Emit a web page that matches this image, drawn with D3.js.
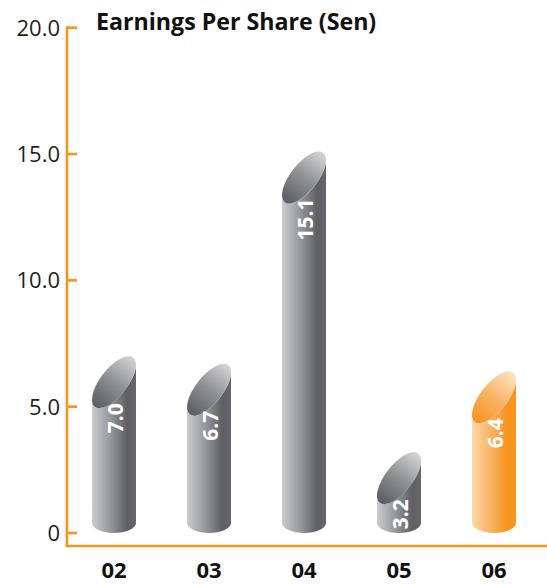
<!DOCTYPE html>
<html>
<head>
<meta charset="utf-8">
<script src="https://cdn.jsdelivr.net/npm/d3@7"></script>
<style>
  body { margin: 0; background: #fff; }
  svg { display: block; font-family: "Open Sans", sans-serif; }
</style>
</head>
<body>
<svg id="chart" width="547" height="584"></svg>
<script>
// chart data
var years = ["02", "03", "04", "05", "06"];
var eps = [7.0, 6.7, 15.1, 3.2, 6.4];
var yTicks = [0, 5, 10, 15, 20];
var title = "Earnings Per Share (Sen)";

var svg = d3.select("#chart");
var orange = "#f7931e";

var x = d3.scalePoint().domain(years).range([114, 494]);
var y = d3.scaleLinear().domain([0, 20]).range([533, 27.7]);

// cylinder geometry
var hx = 22;        // half width of the bar
var hy = 26;        // vertical half extent of the slanted top
var phi = -52 * Math.PI / 180;
var c2 = Math.cos(phi) * Math.cos(phi), s2 = Math.sin(phi) * Math.sin(phi);
var det = c2 * c2 - s2 * s2;
var rx = Math.sqrt((c2 * hx * hx - s2 * hy * hy) / det);
var ry = Math.sqrt((c2 * hy * hy - s2 * hx * hx) / det);
var tanOff = (rx * rx - ry * ry) * Math.sin(phi) * Math.cos(phi) / hx; // y offset of right tangent point
var rb = 10;        // bottom ellipse radius

// gradients
var defs = svg.append("defs");
function grad(id, stops) {
    var g = defs.append("linearGradient").attr("id", id)
        .attr("x1", 0).attr("y1", 0).attr("x2", 1).attr("y2", 0);
    stops.forEach(function (s) {
        g.append("stop").attr("offset", s[0]).attr("stop-color", s[1]);
    });
}
grad("bodyGrey", [[0, "#cbcbcd"], [0.45, "#929396"], [0.8, "#5e5f63"], [1, "#67686c"]]);
grad("topGrey", [[0, "#5b5c60"], [0.5, "#8f9093"], [1, "#d6d6d8"]]);
grad("bodyOrange", [[0, "#fdd8aa"], [0.45, "#f9b160"], [0.8, "#f7931e"], [1, "#f79622"]]);
grad("topOrange", [[0, "#f7931e"], [0.5, "#f9b365"], [1, "#fee5c6"]]);

// axes
svg.append("line")
    .attr("x1", 67).attr("x2", 67)
    .attr("y1", y(20) - 1.5).attr("y2", 546)
    .attr("stroke", orange).attr("stroke-width", 2.6);
svg.append("line")
    .attr("x1", 65.7).attr("x2", 547)
    .attr("y1", 546).attr("y2", 546)
    .attr("stroke", orange).attr("stroke-width", 2.6);

var tick = svg.selectAll(".ytick").data(yTicks).enter().append("g")
    .attr("class", "ytick")
    .attr("transform", function (d) { return "translate(0," + y(d) + ")"; });
tick.append("line")
    .attr("x1", 67).attr("x2", 77)
    .attr("stroke", orange).attr("stroke-width", 2.6);
tick.append("text")
    .attr("x", 60).attr("y", 0).attr("dy", "0.36em")
    .attr("text-anchor", "end")
    .attr("font-size", 22)
    .attr("fill", "#231f20")
    .text(function (d) { return d === 0 ? "0" : d3.format(".1f")(d); });

svg.append("text")
    .attr("x", 96).attr("y", 30)
    .attr("font-size", 23.2).attr("font-weight", "bold")
    .attr("fill", "#111")
    .text(title);

svg.selectAll(".xlab").data(years).enter().append("text")
    .attr("class", "xlab")
    .attr("x", function (d) { return x(d); })
    .attr("y", 578)
    .attr("text-anchor", "middle")
    .attr("font-size", 22).attr("font-weight", "bold")
    .attr("fill", "#111")
    .text(function (d) { return d; });

// bars
var bars = svg.selectAll(".bar").data(years).enter().append("g").attr("class", "bar");

bars.each(function (d, i) {
    var g = d3.select(this);
    var last = i === years.length - 1;
    var cx = x(d);
    var top = y(eps[i]);
    var cy = top + hy;
    var base = y(0) - rb;
    var deg = phi * 180 / Math.PI;
    var p = "M" + (cx - hx) + "," + (cy - tanOff) +
        " L" + (cx - hx) + "," + base +
        " A" + hx + "," + rb + " 0 0 0 " + (cx + hx) + "," + base +
        " L" + (cx + hx) + "," + (cy + tanOff) +
        " A" + rx + "," + ry + " " + deg + " 0 1 " + (cx - hx) + "," + (cy - tanOff) + " Z";
    g.append("path")
        .attr("d", p)
        .attr("fill", last ? "url(#bodyOrange)" : "url(#bodyGrey)");
    g.append("ellipse")
        .attr("cx", 0).attr("cy", 0).attr("rx", rx).attr("ry", ry)
        .attr("transform", "translate(" + cx + "," + cy + ") rotate(" + deg + ")")
        .attr("fill", last ? "url(#topOrange)" : "url(#topGrey)");
    g.append("text")
        .attr("transform", "translate(" + (cx + 1) + "," + (top + 47) + ") rotate(-90)")
        .attr("dy", "0.36em")
        .attr("text-anchor", "end")
        .attr("font-size", 21).attr("font-weight", "bold")
        .attr("fill", "#fff")
        .text(d3.format(".1f")(eps[i]));
});
</script>
</body>
</html>
